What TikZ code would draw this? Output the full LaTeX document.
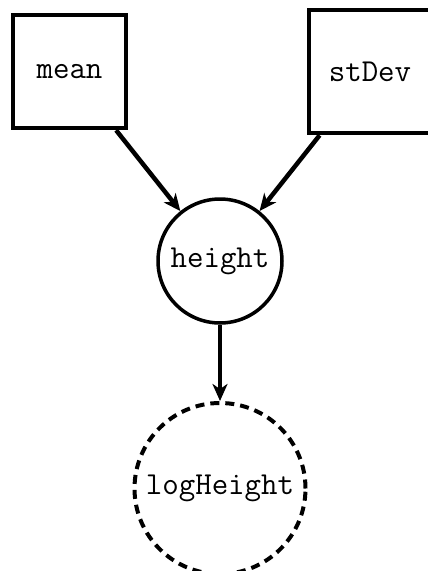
\documentclass[tikz,border=0pt]{standalone}
\usetikzlibrary{arrows.meta}
\begin{document}
\begin{tikzpicture}[x=1pt,y=1pt,
  every node/.style={inner sep=0pt, font=\fontsize{32}{38}\selectfont\ttfamily},
  param/.style={draw, rectangle, line width=4.5pt},
  latent/.style={draw, circle, line width=3.5pt},
  derived/.style={draw, circle, line width=4pt, dash pattern=on 9pt off 6pt},
  arr/.style={line width=4.5pt, -{Stealth[length=17pt, width=15pt, inset=5pt]}}]
  \useasboundingbox (0,0) rectangle (428,-571);
  % parameter boxes
  \node[param, minimum width=113, minimum height=113] (mean) at (69.5,-71.5) {mean};
  \node[param, minimum width=122, minimum height=123] (stdev) at (370,-71.5) {stDev};
  % random variable and its transform
  \node[latent, minimum size=124] (height) at (220,-261) {height};
  \node[derived, minimum size=171] (logheight) at (220,-488.5) {logHeight};
  % dependencies
  \draw[arr] (mean) -- (height);
  \draw[arr] (stdev) -- (height);
  \draw[arr] (height) -- (logheight);
\end{tikzpicture}
\end{document}
